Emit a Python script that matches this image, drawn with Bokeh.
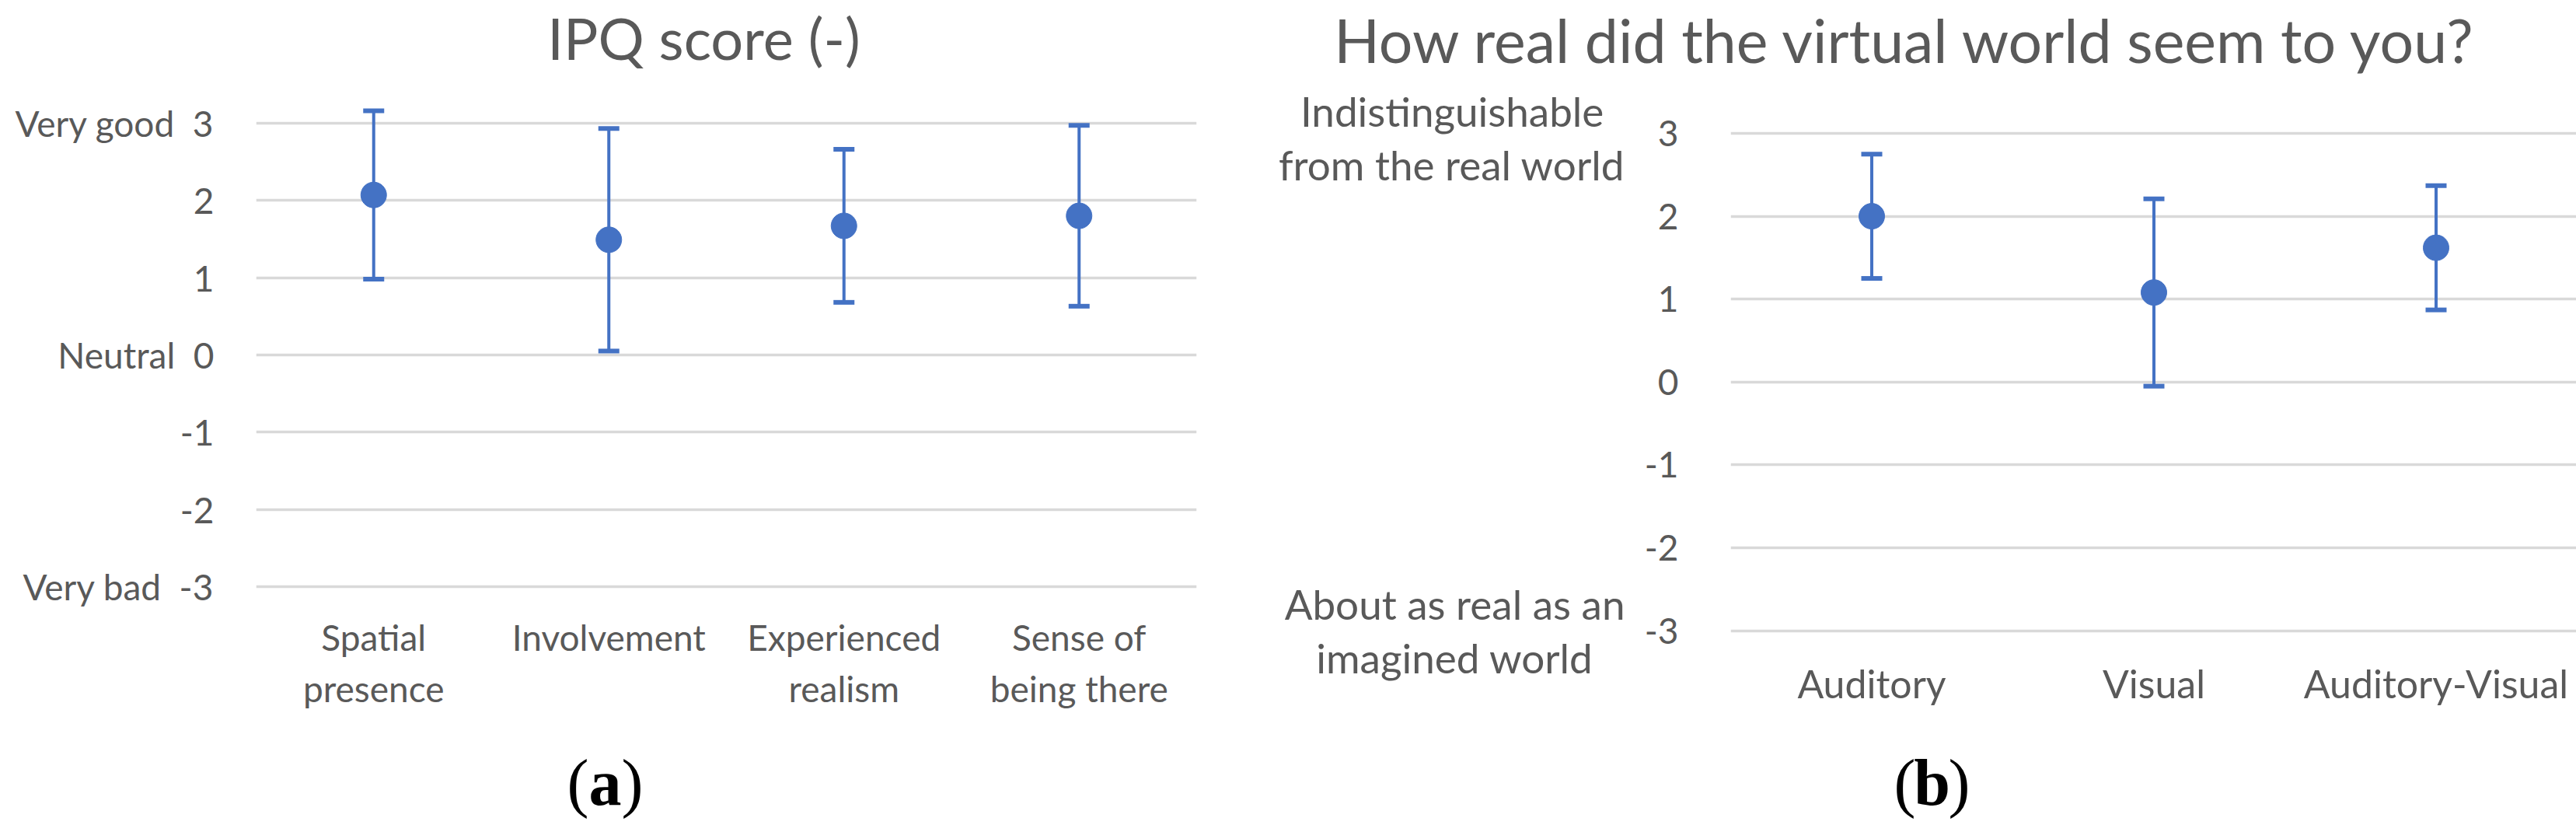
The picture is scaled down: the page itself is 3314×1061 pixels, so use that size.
from bokeh.plotting import figure
from bokeh.layouts import row, column
from bokeh.models import (Range1d, FixedTicker, Label, Whisker, TeeHead,
                          ColumnDataSource, LinearAxis)
from bokeh.embed import file_html
from bokeh.resources import INLINE

# ---------------- data ----------------
ipq_title = "IPQ score (-)"
ipq_categories = ["Spatial\npresence", "Involvement", "Experienced\nrealism", "Sense of\nbeing there"]
ipq_mean = [2.07, 1.49, 1.67, 1.80]
ipq_sd = [1.09, 1.44, 0.99, 1.17]
ipq_ticks = [-3, -2, -1, 0, 1, 2, 3]
ipq_tick_words = {3: "Very good", 0: "Neutral", -3: "Very bad"}

real_title = "How real did the virtual world seem to you?"
real_categories = ["Auditory", "Visual", "Auditory-Visual"]
real_mean = [2.00, 1.08, 1.62]
real_sd = [0.75, 1.13, 0.75]
real_ticks = [-3, -2, -1, 0, 1, 2, 3]
real_end_words = {3: ["Indistinguishable", "from the real world"],
                  -3: ["About as real as an", "imagined world"]}

panel_letters = ["a", "b"]

# ---------------- style ----------------
BLUE = "#4472C4"
GRID = "#D9D9D9"
TEXT = "#595959"
FONT = "Lato"
SERIF = "Liberation Serif"
TICK_PX = 46
CAT_R_PX = 50
WORDS_PX = 53
TITLE_L_PX = 74
TITLE_R_PX = 77
LETTER_PX = 84
# empirical correction of the Label "alphabetic" anchor, in em
BASELINE_FIX = {FONT: 0.40, SERIF: 0.30}
NBSP = "\u00a0"

TOTAL_W, TOTAL_H = 3314, 1061
TOP_H, BOT_H = 110, 111
MAIN_H = TOTAL_H - TOP_H - BOT_H
WL = 1600
WR = TOTAL_W - WL


def style_axis(ax, size=TICK_PX):
    ax.axis_line_color = None
    ax.major_tick_line_color = None
    ax.minor_tick_line_color = None
    ax.major_label_text_color = TEXT
    ax.major_label_text_font = FONT
    ax.major_label_text_font_size = f"{size}px"


def make_panel(W, b_left, b_right, b_top, b_bottom, x_end, cats, mean, sd, ticks,
               overrides, standoff_y, cat_px):
    p = figure(width=W, height=MAIN_H, output_backend="svg", toolbar_location=None,
               x_range=Range1d(0, x_end), y_range=Range1d(-3.05, 3.3),
               min_border_left=b_left, min_border_right=b_right,
               min_border_top=b_top, min_border_bottom=b_bottom)
    p.frame_align = False
    p.outline_line_color = None
    p.background_fill_color = "white"
    p.border_fill_color = "white"
    xs = [i + 0.5 for i in range(len(cats))]
    upper = [m + s for m, s in zip(mean, sd)]
    lower = [m - s for m, s in zip(mean, sd)]
    src = ColumnDataSource(dict(x=xs, mean=mean, upper=upper, lower=lower))

    p.xgrid.visible = False
    p.ygrid.ticker = FixedTicker(ticks=ticks)
    p.ygrid.grid_line_color = GRID
    p.ygrid.grid_line_width = 3.5

    p.add_layout(Whisker(source=src, base="x", upper="upper", lower="lower",
                         line_color=BLUE, line_width=4,
                         upper_head=TeeHead(size=27, line_color=BLUE, line_width=6),
                         lower_head=TeeHead(size=27, line_color=BLUE, line_width=6)))
    p.scatter("x", "mean", source=src, size=33, marker="circle",
              fill_color=BLUE, line_color=BLUE)

    style_axis(p.xaxis[0], cat_px)
    style_axis(p.yaxis[0])
    p.xaxis.ticker = FixedTicker(ticks=xs)
    p.xaxis.major_label_overrides = {x: c for x, c in zip(xs, cats)}
    p.xaxis.major_label_standoff = 26
    p.yaxis.ticker = FixedTicker(ticks=ticks)
    p.yaxis.major_label_overrides = overrides
    p.yaxis.major_label_standoff = standoff_y
    return p


def strip(height):
    s = figure(width=TOTAL_W, height=height, output_backend="svg", toolbar_location=None,
               x_range=Range1d(0, TOTAL_W), y_range=Range1d(height, 0),
               x_axis_type=None, y_axis_type=None,
               min_border_left=0, min_border_right=0, min_border_top=0, min_border_bottom=0)
    s.frame_align = False
    s.outline_line_color = None
    s.background_fill_color = "white"
    s.border_fill_color = "white"
    return s


def add_text(p, x, y, text, size, font=FONT, align="center", style="normal", color=TEXT):
    p.add_layout(Label(x=x, y=y - BASELINE_FIX[font] * size, text=text, text_font=font,
                       text_font_size=f"{size}px", text_color=color, text_align=align,
                       text_baseline="alphabetic", text_font_style=style))


def add_letter(p, cx, base, letter):
    add_text(p, cx, base, letter, LETTER_PX, font=SERIF, style="bold", color="black")
    add_text(p, cx - 21, base, "(", LETTER_PX, font=SERIF, align="right", color="black")
    add_text(p, cx + 21, base, ")", LETTER_PX, font=SERIF, align="left", color="black")


# ---------- left panel (a): frame 329..1539 x 128..759 ----------
left_over = {t: (ipq_tick_words[t] + NBSP * 2 + str(t)) if t in ipq_tick_words else str(t)
             for t in ipq_ticks}
pa = make_panel(WL, 329, WL - 1539, 128 - TOP_H, TOP_H + MAIN_H - 759,
                len(ipq_categories), ipq_categories, ipq_mean, ipq_sd, ipq_ticks,
                left_over, 48, TICK_PX)

# ---------- right panel (b): frame 2226..3314 x 139..816 ----------
R_left = 2226 - WL
R_x_end = (WR - R_left) / 363.0
pb = make_panel(WR, R_left, 0, 139 - TOP_H, TOP_H + MAIN_H - 816, R_x_end,
                real_categories, real_mean, real_sd, real_ticks,
                {t: str(t) for t in real_ticks}, 61, CAT_R_PX)
# trailing no-break spaces centre the shorter line of each two-line label
words_over = {
    3: real_end_words[3][0] + NBSP * 2 + "\n" + real_end_words[3][1],
    -3: real_end_words[-3][0] + "\n" + real_end_words[-3][1] + NBSP * 3,
}
words_axis = LinearAxis(ticker=FixedTicker(ticks=list(real_end_words.keys())),
                        major_label_overrides=words_over, major_label_standoff=16)
style_axis(words_axis, WORDS_PX)
words_axis.major_label_text_line_height = 1.1
pb.add_layout(words_axis, "left")

# ---------- title strip ----------
top = strip(TOP_H)
add_text(top, 905, 78, ipq_title, TITLE_L_PX)
add_text(top, 2452, 81, real_title, TITLE_R_PX)

# ---------- letter strip ----------
bottom = strip(BOT_H)
add_letter(bottom, 778, 1031 - (TOP_H + MAIN_H), panel_letters[0])
add_letter(bottom, 2485, 1031 - (TOP_H + MAIN_H), panel_letters[1])

layout = column(top, row(pa, pb), bottom)
open("out.html", "w").write(file_html(layout, INLINE))
